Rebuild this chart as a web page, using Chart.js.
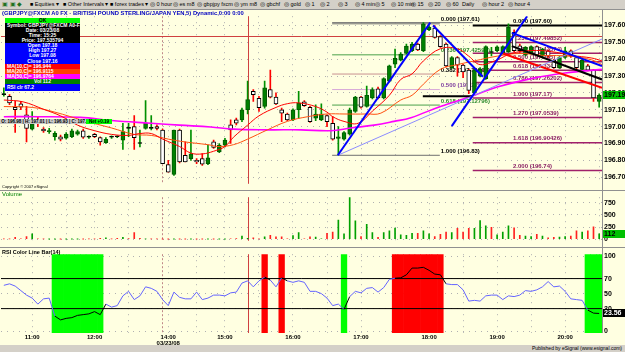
<!DOCTYPE html>
<html>
<head>
<meta charset="utf-8">
<title>GBPJPY 5 min</title>
<script src="https://cdn.jsdelivr.net/npm/chart.js@4.4.1/dist/chart.umd.min.js"></script>
<style>
body{margin:0;background:#d4d0c8;}
#wrap{position:relative;width:625px;height:352px;overflow:hidden;background:#ffffe1;font-family:"Liberation Sans",Arial,sans-serif;}
.a{position:absolute;white-space:nowrap;}
canvas{position:absolute;left:0;}
#tools{left:0;top:0;width:625px;height:9px;background:#d4d0c8;border-bottom:1px solid #909090;}
#tools span{position:absolute;top:0;font-size:5.5px;line-height:9px;color:#000;}
#title{left:2px;top:10px;font-size:6px;font-weight:bold;color:#0000c0;line-height:7px;transform-origin:0 0;}
#info{left:5px;top:18px;width:75px;}
#info div{font-size:5px;font-weight:bold;color:#fff;overflow:hidden;padding:0 2px;}
#ohlc{left:0;top:119px;width:112px;height:5px;background:#c8c8c8;font-size:4.5px;line-height:5px;font-weight:bold;}
#net{position:absolute;left:86px;top:0;width:26px;height:5px;background:#00ff00;text-align:center;}
.sep{background:#909090;}
#bottom{left:0;top:345px;width:625px;height:7px;background:#d4d0c8;}
#pub{right:3px;top:345px;font-size:5px;line-height:7px;color:#000;}
</style>
</head>
<body>
<div id="wrap">
  <div id="tools" class="a"></div>
  <canvas id="cPrice" width="625" height="180" style="top:10px"></canvas>
  <canvas id="cVol" width="625" height="56" style="top:191px"></canvas>
  <canvas id="cRsi" width="625" height="104" style="top:248px"></canvas>
  <div class="a sep" style="left:0;top:190px;width:625px;height:1px"></div>
  <div class="a sep" style="left:0;top:247px;width:625px;height:1px"></div>
  <div class="a sep" style="left:602px;top:10px;width:1px;height:323px"></div>
  <div id="title" class="a">(GBPJPY@FXCM A0 FX - BRITISH POUND STERLING/JAPAN YEN,5) Dynamic,0:00 0:00</div>
  <div id="info" class="a"></div>
  <div id="ohlc" class="a">&nbsp;O: 196.98 | H: 197.01 | L: 196.93 | C: 197.17<div id="net">Net +0.19</div></div>
  <div class="a" style="left:2px;top:191px;font-size:6px;color:#008000">Volume</div>
  <div class="a" style="left:2px;top:249px;font-size:5.5px;font-weight:bold">RSI Color Line Bar(14)</div>
  <div class="a" style="left:2px;top:184px;font-size:4px">Copyright © 2007 eSignal</div>
  <div id="bottom" class="a"></div>
  <div id="pub" class="a">Published by eSignal (www.esignal.com)</div>
</div>
<script>
// categories: 5 minute bars, friday session then sunday session
var times = [
 '10:35','10:40','10:45','10:50','10:55','11:00','11:05','11:10','11:15','11:20','11:25','11:30','11:35','11:40','11:45','11:55',
 '12:00','12:05','12:10','12:15','12:20','12:25','12:30','12:35','12:40','12:45','12:50','12:55',
 '13:55','14:00','14:05','14:10','14:20','14:25','14:30','14:35','14:45','14:50','14:55',
 '15:00','15:05','15:10','15:15','15:20','15:25','15:30','15:35','15:40','15:45','15:50','15:55',
 '16:00','16:05','16:10','16:15','16:20','16:25','16:30','16:35','16:40','16:45','16:50','16:55',
 '17:00','17:05','17:10','17:15','17:20','17:25','17:30','17:35','17:40','17:45','17:50','17:55',
 '18:00','18:05','18:10','18:15','18:20','18:25','18:30','18:35','18:40','18:45','18:50','18:55',
 '19:00','19:05','19:10','19:15','19:20','19:25','19:30','19:35','19:40','19:45','19:50','19:55',
 '20:00','20:05','20:10','20:15','20:20','20:25','20:30'
];
var dateLabel = '03/23/08';
var dayBreak = 28;     // first bar of sunday
var cursorBar = 43;

var opens = [197.19,197.18,197.115,197.135,197.07,196.985,197.04,196.985,196.97,196.94,
 196.94,196.932,196.94,196.955,196.975,196.937,196.955,196.935,196.905,196.937,
 196.94,196.92,196.99,197.00,196.90,196.99,196.99,197.00,196.98,196.775,
 196.716,196.98,196.83,196.81,196.80,196.81,196.78,196.91,196.85,196.89,
 197.01,197.04,197.04,197.10,197.21,197.168,197.12,197.22,197.175,197.10,
 197.075,197.04,197.10,197.147,197.115,197.05,197.04,197.065,197.02,196.93,
 196.925,196.955,197.09,197.175,197.12,197.17,197.225,197.17,197.27,197.37,
 197.395,197.434,197.45,197.49,197.45,197.575,197.585,197.535,197.49,197.35,
 197.41,197.365,197.335,197.20,197.30,197.285,197.44,197.45,197.435,197.445,
 197.56,197.48,197.425,197.435,197.475,197.418,197.45,197.395,197.35,197.41,
 197.45,197.41,197.34,197.36,197.335,197.15];
var highs = [197.23,197.19,197.15,197.15,197.12,197.09,197.06,196.995,196.99,196.97,
 196.95,196.965,196.985,196.98,196.985,196.945,196.96,196.94,196.935,196.945,
 196.945,197.02,197.02,197.065,196.98,197.155,197.065,197.01,196.985,196.80,
 196.98,196.985,196.91,196.98,196.81,196.84,196.89,196.92,196.90,196.93,
 197.04,197.05,197.11,197.27,197.22,197.18,197.27,197.335,197.20,197.11,
 197.08,197.105,197.21,197.155,197.12,197.13,197.135,197.07,197.06,197.00,
 196.97,197.11,197.18,197.18,197.24,197.23,197.235,197.29,197.365,197.46,
 197.44,197.49,197.50,197.495,197.617,197.60,197.60,197.54,197.495,197.415,
 197.415,197.37,197.34,197.34,197.35,197.48,197.47,197.48,197.48,197.61,
 197.575,197.49,197.475,197.48,197.48,197.465,197.455,197.40,197.415,197.47,
 197.455,197.415,197.40,197.37,197.34,197.195];
var lows = [197.18,197.13,196.965,197.10,196.91,196.98,197.00,196.965,196.96,196.92,
 196.915,196.925,196.935,196.95,196.93,196.93,196.935,196.89,196.90,196.93,
 196.935,196.865,196.94,196.865,196.88,196.985,196.98,196.98,196.78,196.73,
 196.71,196.785,196.79,196.80,196.78,196.77,196.775,196.87,196.845,196.88,
 196.90,197.01,197.03,197.075,197.15,197.09,197.11,197.17,197.13,197.03,
 197.035,197.035,197.05,197.12,197.025,197.035,197.035,197.00,196.92,196.83,
 196.92,196.95,197.085,197.11,197.115,197.165,197.165,197.165,197.265,197.35,
 197.39,197.43,197.445,197.45,197.445,197.57,197.525,197.47,197.355,197.345,
 197.30,197.29,197.195,197.185,197.295,197.28,197.42,197.445,197.43,197.44,
 197.445,197.44,197.42,197.43,197.42,197.41,197.41,197.345,197.345,197.405,
 197.41,197.34,197.335,197.33,197.15,197.115];
var closes = [197.19,197.14,197.10,197.115,196.99,197.015,197.02,196.975,196.975,196.96,
 196.925,196.956,196.975,196.97,196.937,196.937,196.94,196.91,196.925,196.937,
 196.94,196.97,196.99,196.935,196.90,197.02,196.99,196.99,196.78,196.73,
 196.98,196.79,196.79,196.838,196.79,196.777,196.815,196.877,196.89,196.92,
 196.98,197.02,197.10,197.16,197.19,197.113,197.23,197.175,197.135,197.08,
 197.04,197.10,197.14,197.125,197.03,197.075,197.075,197.03,196.925,196.94,
 196.965,197.10,197.175,197.115,197.186,197.22,197.17,197.285,197.36,197.405,
 197.43,197.478,197.49,197.455,197.61,197.59,197.53,197.475,197.36,197.41,
 197.365,197.325,197.215,197.335,197.34,197.475,197.44,197.473,197.475,197.59,
 197.45,197.45,197.47,197.475,197.425,197.46,197.418,197.35,197.41,197.45,
 197.418,197.35,197.395,197.335,197.17,197.186];
var volumes = [5,8,38,10,55,110,11,5,4,3, 4,3,3,3,4,5,6,20,27,6,
 18,38,12,137,20,8,6,5,3,2, 2,2,2,2,2,2,2,3,2,4,
 11,12,66,20,27,8,49,82,49,49, 11,77,137,11,49,44,11,120,148,394,
 110,860,378,55,307,137,38,137,170,230, 93,82,120,120,170,110,55,99,148,137,
 225,148,225,225,383,274,246,93,148,274, 235,82,66,55,99,66,27,38,44,55,
 66,175,148,175,252,112];
var rsi = [61,63,60,54,48,44,36,43,44,20, 15,17,18,21,22,23,26,22,36,32,
 34,47,53,42,47,59,57,53,42,34, 52,45,43,43,52,42,44,48,48,47,
 51,52,64,67,59,67,72,68,59,71, 67,65,67,65,53,53,50,44,34,36,
 29,46,53,51,57,58,52,58,69,70.5, 71,75,84,84,85,81,76,75,63,62,
 62,55,40,41,40,47,48,48,42,47, 46,48,54,53,55,59,66,59,60,53,
 43,42,41,28,24,23.56];

// moving averages as [bar, price]
var ma10 = [[0,197.158],[3.4,197.147],[7,197.103],[10,197.064],[13,197.009],[16,196.976],[19,196.954],[22,196.948],[24,196.959],[26,196.959],[28,196.926],[31,196.882],[33,196.843],[35,196.838],[37,196.854],[39,196.882],[40.5,196.937],[43,197.009],[45,197.064],[48,197.114],[50,197.136],[52,197.141],[55,197.119],[57,197.086],[58,197.059],[60,197.031],[62.5,197.02],[65,197.092],[68,197.186],[70,197.28],[72,197.313],[74,197.39],[77,197.462],[80,197.462],[82,197.418],[84,197.368],[87,197.396],[89.5,197.434],[93,197.451],[96.6,197.445],[100,197.423],[103.7,197.407],[105.5,197.39]];
var ma20 = [[0,197.119],[5,197.114],[9,197.086],[14,197.036],[19,196.992],[23,196.954],[26,196.948],[29,196.926],[32,196.909],[36,196.893],[38,196.882],[40.5,196.893],[43,196.926],[46.5,196.981],[50,197.031],[53.6,197.059],[57,197.075],[60,197.075],[64,197.075],[66.5,197.08],[70,197.158],[72,197.186],[74,197.252],[77,197.34],[80,197.368],[83,197.39],[87,197.418],[91,197.434],[95,197.423],[100,197.418],[103.7,197.396],[105.5,197.368]];
var ma50 = [[0,197.059],[6,197.059],[13.5,197.055],[19,197.036],[26,197.02],[31,197.009],[36.5,196.998],[40.5,196.985],[46.5,196.981],[52.4,196.981],[57.7,196.976],[61.2,196.992],[65.3,197.009],[68.8,197.031],[71.8,197.053],[77,197.12],[83,197.186],[87,197.235],[93,197.285],[99,197.318],[105.5,197.34]];

// fibonacci retracements
var fibAPrices = [197.61,197.42592,197.31204,197.22,197.12796,196.83];
var fibATexts = ['0.000 (197.61)','0.236 (197.42592)','0.382 (197.31204)','0.500 (197.22)','0.618 (197.12796)','1.000 (196.83)'];
var fibAColors = ['#707070','#4aa04a','#c89090','#d8a8d8','#4aa04a','#707070'];
var fibASpan = [57.9, 76.9];
var fibBPrices = [197.60,197.49852,197.43574,197.385,197.33426,197.26202,197.17,197.0539,196.90426,196.74];
var fibBTexts = ['0.000 (197.60)','0.236 (197.49852)','0.382 (197.43574)','0.500 (197.385)','0.618 (197.33426)','0.786 (197.26202)','1.000 (197.17)','1.270 (197.0539)','1.618 (196.90426)','2.000 (196.74)'];
var fibBSpan = [82.7, 105.5];

// hand drawn trend lines [bar, price]
var blueLines = [[[58.9,196.83],[75.2,197.617]],[[75.7,197.60],[84.5,197.296]],[[79.0,197.003],[92.3,197.655]],[[89.6,197.556],[105.5,197.36]]];
var lavenderLine = [[58.9,196.83],[105.5,197.52]];
var blackDiag = [[89.6,197.478],[105.5,197.28]];
var redDiag = [[88.0,197.434],[105.5,197.23]];
var blackShort = [[73.9,197.18],[82.7,197.18]];
var grayTop = [[57.9,197.617],[82.7,197.617]];
var crossPrice = 197.535794;

var priceTicks = [196.70,196.80,196.90,197.00,197.10,197.20,197.30,197.40,197.50,197.60];
var volTicks = [0,250,500,750];
var rsiTicks = [0,30,50,70,100];

var N = times.length;
var gridIdx = [];
times.forEach(function(t,i){ if(t.slice(3)=='00' || t.slice(3)=='30') gridIdx.push(i); });

Chart.defaults.font.family = '"Liberation Sans", Arial, sans-serif';
Chart.defaults.animation = false;

function up(i){ return closes[i] > opens[i]; }
function flat(i){ return closes[i] == opens[i]; }
function pts(arr){ return arr.map(function(p){ return {x:p[0], y:p[1]}; }); }

function xAxis(showLabels){
  return {
    type:'linear', min:-0.5, max:N-0.5, offset:false,
    afterBuildTicks:function(s){ s.ticks = gridIdx.map(function(v){ return {value:v}; }); },
    afterFit:function(s){ s.height = showLabels ? 19 : 0; },
    grid:{color:'#b0b0b0', drawTicks:false, offset:false},
    border:{display:false, dash:[1,5]},
    ticks:{display:showLabels, autoSkip:false, maxRotation:0, padding:1, color:'#000',
      font:{size:6, weight:'bold', lineHeight:1},
      callback:function(v){
        var t = times[v];
        if(!t || t.slice(3)!='00') return '';
        return v==dayBreak+1 ? [t, dateLabel] : t;
      }}
  };
}
function yAxis(min, max, ticks, fmt){
  return {
    position:'right', min:min, max:max,
    afterBuildTicks:function(s){ s.ticks = ticks.map(function(v){ return {value:v}; }); },
    afterFit:function(s){ s.width = 23; },
    grid:{color:'#b0b0b0', drawTicks:false},
    border:{display:false, dash:[1,5]},
    ticks:{padding:2, color:'#000', font:{size:7, weight:'bold'}, callback:fmt}
  };
}
function lineSet(data, color, width, order){
  return {type:'line', data:pts(data), borderColor:color, borderWidth:width, pointRadius:0, order:order, tension:0};
}

// vertical divider + cursor in every panel
function verticals(chart){
  var ctx = chart.ctx, a = chart.chartArea, x = chart.scales.x;
  ctx.save();
  var xd = Math.round(x.getPixelForValue(dayBreak - 0.1)) + 0.5;
  ctx.strokeStyle = '#c08888'; ctx.lineWidth = 1; ctx.setLineDash([2,2]);
  ctx.beginPath(); ctx.moveTo(xd, a.top); ctx.lineTo(xd, a.bottom); ctx.stroke();
  var xc = Math.round(x.getPixelForValue(cursorBar)) + 0.5;
  ctx.setLineDash([]); ctx.strokeStyle = '#d04040';
  ctx.beginPath(); ctx.moveTo(xc, a.top); ctx.lineTo(xc, a.bottom); ctx.stroke();
  ctx.restore();
}
function tag(chart, value, text, bg, fg){
  var ctx = chart.ctx, a = chart.chartArea, y = chart.scales.y.getPixelForValue(value);
  ctx.save();
  ctx.fillStyle = bg; ctx.fillRect(a.right + 1, Math.round(y) - 4, 22, 8);
  ctx.fillStyle = fg; ctx.font = 'bold 7px "Liberation Sans"'; ctx.textBaseline = 'middle';
  ctx.fillText(text, a.right + 2, Math.round(y));
  ctx.restore();
}

// ---------------- price panel
var pricePlugin = {
  id:'priceMarks',
  beforeDatasetsDraw:function(chart){
    verticals(chart);
    var ctx = chart.ctx, a = chart.chartArea, x = chart.scales.x, y = chart.scales.y;
    ctx.save();
    var yc = Math.round(y.getPixelForValue(crossPrice)) + 0.5;
    ctx.strokeStyle = '#d04040'; ctx.lineWidth = 1;
    ctx.beginPath(); ctx.moveTo(a.left, yc); ctx.lineTo(a.right, yc); ctx.stroke();
    ctx.font = 'bold 6px "Liberation Sans"'; ctx.textBaseline = 'bottom';
    fibAPrices.forEach(function(p, k){
      ctx.fillStyle = k==1 || k==4 ? '#2e8b2e' : (k==3 ? '#8040a0' : '#000');
      ctx.fillText(fibATexts[k], x.getPixelForValue(fibASpan[1]) + 1, y.getPixelForValue(p) - 1);
    });
    fibBPrices.forEach(function(p, k){
      ctx.fillStyle = k==0 ? '#000' : '#8a1f63';
      ctx.fillText(fibBTexts[k], x.getPixelForValue(89.8), y.getPixelForValue(p) - 1);
    });
    ctx.restore();
  },
  afterDatasetsDraw:function(chart){
    tag(chart, closes[N-1], closes[N-1].toFixed(2), '#00c000', '#000');
  }
};

var priceSets = [];
fibAPrices.forEach(function(p, k){
  priceSets.push(lineSet([[fibASpan[0],p],[fibASpan[1],p]], fibAColors[k], 1, 20));
});
fibBPrices.forEach(function(p, k){
  priceSets.push(lineSet([[fibBSpan[0],p],[fibBSpan[1],p]], k==0 ? '#000' : '#a0206a', k==0 ? 2 : 1.5, 20));
});
priceSets.push(lineSet(grayTop, '#707070', 1, 20));
priceSets.push({type:'bar', data:times.map(function(t,i){ return {x:i, y:[lows[i], highs[i]]}; }),
  barThickness:1, grouped:false, order:8,
  backgroundColor:function(c){ var i=c.dataIndex; return up(i)||flat(i) ? '#009000' : '#ff0000'; }});
priceSets.push({type:'bar', data:times.map(function(t,i){ return {x:i, y:[opens[i], closes[i]]}; }),
  barThickness:4, grouped:false, order:7, minBarLength:1, borderWidth:1, borderSkipped:false,
  backgroundColor:function(c){ var i=c.dataIndex; return flat(i) ? '#000' : (up(i) ? '#008000' : '#ffffff'); },
  borderColor:function(c){ var i=c.dataIndex; return flat(i) ? '#000' : (up(i) ? '#005a00' : '#000'); }});
priceSets.push(Object.assign(lineSet(ma50, '#ff00ff', 1.6, 5), {tension:0.4}));
priceSets.push(Object.assign(lineSet(ma20, '#ff5010', 1, 4), {tension:0.4}));
priceSets.push(Object.assign(lineSet(ma10, '#ff0000', 1, 3), {tension:0.4}));
priceSets.push(lineSet(lavenderLine, '#8c8cff', 1, 2));
priceSets.push(lineSet(blackShort, '#000', 2, 2));
priceSets.push(lineSet(blackDiag, '#000', 2, 2));
priceSets.push(lineSet(redDiag, '#ff0000', 2, 2));
blueLines.forEach(function(l){ priceSets.push(lineSet(l, '#0000ff', 2, 1)); });

new Chart(document.getElementById('cPrice'), {
  type:'bar',
  data:{datasets:priceSets},
  options:{
    responsive:false, devicePixelRatio:1,
    layout:{padding:{left:1, right:0, top:0, bottom:0}},
    plugins:{legend:{display:false}, tooltip:{enabled:false}},
    scales:{
      x:xAxis(false),
      y:yAxis(196.6608, 197.6552, priceTicks, function(v){ return v.toFixed(2); })
    }
  },
  plugins:[pricePlugin]
});

// ---------------- volume panel
new Chart(document.getElementById('cVol'), {
  type:'bar',
  data:{datasets:[{
    data:times.map(function(t,i){ return {x:i, y:volumes[i]}; }),
    barThickness:1, grouped:false,
    backgroundColor:function(c){ return up(c.dataIndex) ? '#00a000' : '#ff2020'; }
  }]},
  options:{
    responsive:false, devicePixelRatio:1,
    layout:{padding:{left:1, right:0, top:0, bottom:0}},
    plugins:{legend:{display:false}, tooltip:{enabled:false}},
    scales:{
      x:xAxis(false),
      y:yAxis(-31.9, 861.7, volTicks, function(v){ return String(v); })
    }
  },
  plugins:[{id:'volMarks', beforeDatasetsDraw:verticals,
    afterDatasetsDraw:function(chart){ tag(chart, volumes[N-1], String(volumes[N-1]), '#00c000', '#000'); }}]
});

// ---------------- RSI panel
function hot(i){ return rsi[i] > 70 || rsi[i] < 30; }
var bandIdx = [];
rsi.forEach(function(v,i){ if(hot(i)) bandIdx.push(i); });

new Chart(document.getElementById('cRsi'), {
  type:'bar',
  data:{datasets:[
    {type:'bar', yAxisID:'yb', order:10, grouped:false, barPercentage:1, categoryPercentage:1,
      data:bandIdx.map(function(i){ return {x:i, y:1}; }),
      backgroundColor:function(c){ return c.raw && rsi[c.raw.x] > 70 ? '#ff0000' : '#00ff00'; }},
    lineSet([[-0.5,70],[N-0.5,70]], '#000', 1, 5),
    lineSet([[-0.5,30],[N-0.5,30]], '#000', 1, 5),
    {type:'line', order:1, pointRadius:0, borderWidth:1, tension:0,
      data:rsi.map(function(v,i){ return {x:i, y:v}; }),
      borderColor:'#6464ff',
      segment:{borderColor:function(c){ return hot(c.p0DataIndex) ? '#000' : '#6464ff'; }}}
  ]},
  options:{
    responsive:false, devicePixelRatio:1,
    layout:{padding:{left:1, right:0, top:0, bottom:0}},
    plugins:{legend:{display:false}, tooltip:{enabled:false}},
    scales:{
      x:xAxis(true),
      y:yAxis(-2.47, 102.47, rsiTicks, function(v){ return String(v); }),
      yb:{display:false, min:0, max:1}
    }
  },
  plugins:[{id:'rsiMarks', beforeDatasetsDraw:verticals,
    afterDatasetsDraw:function(chart){ tag(chart, rsi[N-1], rsi[N-1].toFixed(2), '#000', '#fff'); }}]
});

// ---------------- info box, toolbar
var infoRows = [
  ['OK','#00ff00','#000','center',4.5],
  ['Symbol: GBPJPY@FXCM A0-FX,5','#000','#fff','center',5],
  ['Date: 03/23/08','#000','#fff','center',5],
  ['Time: 15:25','#000','#fff','center',5],
  ['Price: 197.535794','#000','#fff','center',5.5],
  ['Open 197.18','#0000ff','#fff','center',5.2],
  ['High 197.27','#0000ff','#fff','center',5.2],
  ['Low 197.08','#0000ff','#fff','center',5.2],
  ['Close 197.16','#0000ff','#fff','center',5.4],
  ['MA(10,C)= 196.944','#ff0000','#fff','left',5.5],
  ['MA(20,C)= 196.9115','#ff4000','#fff','left',5],
  ['MA(50,C)= 196.9764','#ff00ff','#fff','left',5],
  ['Vol 112','#008000','#fff','center',5],
  ['RSI clr 67.2','#0000ff','#fff','left',6.5]
];
var info = document.getElementById('info');
infoRows.forEach(function(r){
  var d = document.createElement('div');
  d.textContent = r[0];
  d.style.background = r[1]; d.style.color = r[2]; d.style.textAlign = r[3];
  d.style.height = r[4] + 'px'; d.style.lineHeight = r[4] + 'px';
  info.appendChild(d);
});

var toolItems = [[30,'\u25A0 Equities \u25BE'],[63,'\u25A0 Other Intervals \u25BE'],[110,'\u25A0 forex trades \u25BE'],
  [150,'\u25CE 0 hour'],[173,'\u25CE es m8'],[197,'\u25CE gbpjpy fxcm'],[234,'\u25CE ym m8'],[260,'\u25CE gbchf'],
  [284,'\u25CE gold'],[305,'\u25CE 1'],[320,'\u25CE 2'],[338,'\u25CE 3'],[355,'\u25CE 4 min'],[375,'\u25CE 5'],
  [391,'\u25CE 10 min'],[411,'\u25CE 15'],[428,'\u25CE 20'],[446,'\u25CE 60'],[462,'Daily'],[482,'\u25CE hour 2'],[508,'\u25CE hour 4']];
var tools = document.getElementById('tools');
tools.innerHTML = '<span style="left:2px;color:#207020">\u25A3 \u25A3 \u25C6</span>';
toolItems.forEach(function(t){
  var s = document.createElement('span');
  s.style.left = t[0] + 'px'; s.textContent = t[1];
  tools.appendChild(s);
});

// stretch title to the width it has in the picture
var title = document.getElementById('title');
title.style.transform = 'scaleX(' + (242 / title.offsetWidth) + ')';
</script>
</body>
</html>
